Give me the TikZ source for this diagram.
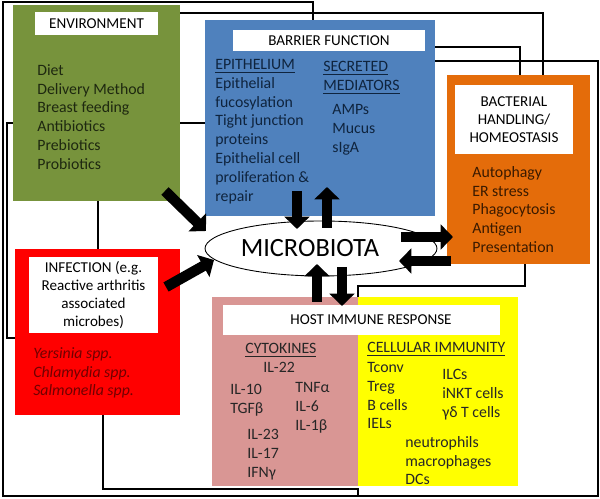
\documentclass[tikz,border=0pt]{standalone}
\usepackage{fontspec}
\setmainfont{Carlito}
\usepackage{xcolor}
\usepackage{tikz}
\usetikzlibrary{positioning,calc,shapes.geometric,arrows.meta}
\definecolor{EnvGreen}{HTML}{77933C}
\definecolor{BarBlue}{HTML}{4F81BD}
\definecolor{BactOrange}{HTML}{E46C0A}
\definecolor{InfRed}{HTML}{FF0000}
\definecolor{CytoPink}{HTML}{D99694}
\definecolor{CellYellow}{HTML}{FFFF00}
\definecolor{EnvText}{HTML}{1E2810}
\definecolor{BarText}{HTML}{0F243E}
\definecolor{BactText}{HTML}{3A1A00}
\definecolor{InfText}{HTML}{700000}
\definecolor{HostText}{HTML}{262626}

\begin{document}
\begin{tikzpicture}[
                x=0.02cm, y=-0.02cm,
                % boxes, labels and texts
                box/.style={inner sep=0, outer sep=0},
                lbl/.style={fill=white, inner sep=0, outer sep=0, align=center, text=black,
                    font=\fontsize{8.6}{10.4}\selectfont},
                txt/.style={anchor=north west, inner sep=0, align=left,
                    font=\fontsize{9}{10.7}\selectfont},
                link/.style={draw=black, line width=1pt},
                bigarrow/.style={draw=black, line width=6pt, -{Triangle[length=7pt, width=14pt]}}
            ]
                \useasboundingbox (0,0) rectangle (600,499);

                % Connectors behind the boxes
                \draw[link] (313,20) |- (3,2) |- (598,496) |- (435,61);
                \draw[link] (180,13) -| (543,75);
                \draw[link] (435,47) -| (520,75);
                \draw[link] (180,123) -- (205,123);
                \draw[link] (98,201) -- (98,249);
                \draw[link] (13,123) -| (7,338) -- (15,338);
                \draw[link] (103,415) |- (358,489) -- (358,496);
                \draw[link] (525,264) |- (358,286) -- (358,297);

                % Boxes
                \node[box, fill=EnvGreen, minimum width=3.34cm, minimum height=3.92cm] (env) at (96.5,103) {};
                \node[box, fill=BarBlue, minimum width=4.6cm, minimum height=3.92cm] (barrier) at (320,118) {};
                \node[box, fill=BactOrange, minimum width=2.86cm, minimum height=3.78cm] (bact) at (518.5,169.5) {};
                \node[box, fill=InfRed, minimum width=3.3cm, minimum height=3.32cm] (infect) at (97.5,332) {};
                \node[box, fill=CytoPink, minimum width=2.92cm, minimum height=3.78cm] (cyto) at (285,391.5) {};
                \node[box, fill=CellYellow, minimum width=3.2cm, minimum height=3.78cm] (cell) at (438,391.5) {};

                % Labels
                \node[lbl, minimum width=2.46cm, minimum height=0.46cm] (envlbl) at (96.5,23.5) {ENVIRONMENT};
                \node[lbl, minimum width=3.84cm, minimum height=0.42cm] (barlbl) at (329,40.5) {BARRIER FUNCTION};
                \node[lbl, minimum width=2.36cm, minimum height=1.38cm] (bactlbl) at (514,119.5) {BACTERIAL\\HANDLING/\\HOMEOSTASIS};
                \node[lbl, minimum width=2.58cm, minimum height=1.52cm] (inflbl) at (93.5,295) {INFECTION (e.g.\\Reactive arthritis\\associated\\microbes)};
                \node[lbl, minimum width=5.54cm, minimum height=0.6cm] (hostlbl) at (361.5,320) {};
                \node[lbl, fill=none] (hosttxt) at (371,320) {HOST IMMUNE RESPONSE};

                % Texts
                \node[txt, text=EnvText] (envlist) at (37,64) {Diet\\Delivery Method\\Breast feeding\\Antibiotics\\Prebiotics\\Probiotics};
                \node[txt, text=BarText] (epilist) at (215,59) {\underline{EPITHELIUM}\\Epithelial\\fucosylation\\Tight junction\\proteins\\Epithelial cell\\proliferation \&\\repair};
                \node[txt, text=BarText] (sechead) at (323,61) {\underline{SECRETED}\\\underline{MEDIATORS}};
                \node[txt, text=BarText] (seclist) at (332,104) {AMPs\\Mucus\\sIgA};
                \node[txt, text=BactText] (bactlist) at (472,166) {Autophagy\\ER stress\\Phagocytosis\\Antigen\\Presentation};
                \node[txt, text=InfText, font=\fontsize{9}{10.7}\selectfont\itshape] (inflist) at (33,347) {Yersinia spp.\\Chlamydia spp.\\Salmonella spp.};
                \node[txt, text=HostText] (cytohead) at (245,343) {\underline{CYTOKINES}};
                \node[txt, text=HostText] (cytoa) at (263,362) {IL-22};
                \node[txt, text=HostText] (cytob) at (230,384) {IL-10\\TGFβ};
                \node[txt, text=HostText] (cytoc) at (247,429) {IL-23\\IL-17\\IFNγ};
                \node[txt, text=HostText] (cytod) at (295,382) {TNFα\\IL-6\\IL-1β};
                \node[txt, text=HostText] (cellhead) at (367,342) {\underline{CELLULAR IMMUNITY}};
                \node[txt, text=HostText] (cella) at (367,362) {Tconv\\Treg\\B cells\\IELs};
                \node[txt, text=HostText] (cellb) at (442,369) {ILCs\\iNKT cells\\γδ T cells};
                \node[txt, text=HostText] (cellc) at (405,436) {neutrophils\\macrophages\\DCs};

                % Microbiota
                \node[ellipse, draw=black, line width=0.5pt, fill=white, minimum width=4.64cm, minimum height=1.1cm, inner sep=0] (micro) at (321,248.5) {};
                \node[inner sep=0, font=\fontsize{15}{18}\selectfont] (microtxt) at (310,248) {MICROBIOTA};

                % Block arrows
                \draw[bigarrow] (165,191) -- (206,231);
                \draw[bigarrow] (166,287) -- (214,260);
                \draw[bigarrow] (297,191) -- (297,229);
                \draw[bigarrow] (327,228) -- (327,187);
                \draw[bigarrow] (317,302) -- (317,264);
                \draw[bigarrow] (342,267) -- (342,306);
                \draw[bigarrow] (401,237) -- (453,237);
                \draw[bigarrow] (451,261) -- (399,261);

            \end{tikzpicture}
\end{document}
